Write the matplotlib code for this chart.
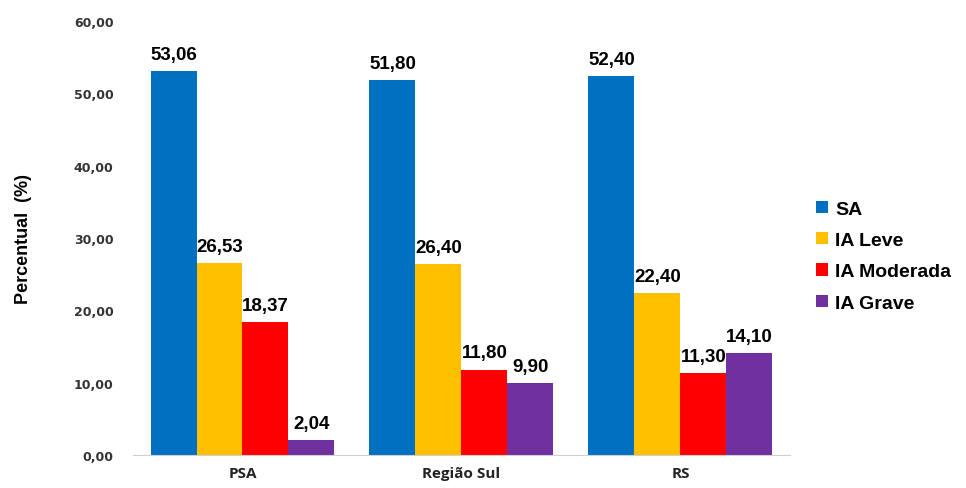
import matplotlib.pyplot as plt
import numpy as np

categories = ["PSA", "Região Sul", "RS"]
series_names = ["SA", "IA Leve", "IA Moderada", "IA Grave"]
sa = [53.06, 51.80, 52.40]
ia_leve = [26.53, 26.40, 22.40]
ia_moderada = [18.37, 11.80, 11.30]
ia_grave = [2.04, 9.90, 14.10]
y_ticks = [0, 10, 20, 30, 40, 50, 60]

colors = ["#0070C0", "#FFC000", "#FF0000", "#7030A0"]
series = [sa, ia_leve, ia_moderada, ia_grave]


def fmt(v):
    return f"{v:.2f}".replace(".", ",")


fig = plt.figure(figsize=(9.66, 4.89), dpi=100)
ax = fig.add_axes([0.1377, 0.0675, 0.680, 0.8875])

x = np.arange(len(categories))
width = 0.21
for i, (vals, col, name) in enumerate(zip(series, colors, series_names)):
    pos = x + (i - 1.5) * width
    bars = ax.bar(pos, vals, width, color=col, label=name)
    for b, v in zip(bars, vals):
        ax.annotate(fmt(v), (b.get_x() + b.get_width() / 2, v),
                    xytext=(0, 6), textcoords="offset points",
                    ha="center", va="bottom", fontsize=13.5,
                    fontweight="bold", family="Liberation Sans")

ax.set_xlim(-0.5, 2.5)
ax.set_ylim(0, 60)
ax.set_yticks(y_ticks)
ax.set_yticklabels([fmt(t) for t in y_ticks], fontsize=9, fontweight="bold",
                   family="Liberation Sans Narrow", color="#333333")
ax.set_xticks(x)
ax.set_xticklabels(categories, fontsize=11, fontweight="bold",
                   family="Open Sans", color="#222222")
ax.tick_params(axis="y", length=0, pad=14)
ax.tick_params(axis="x", length=0, pad=8)
for s in ["top", "right", "left"]:
    ax.spines[s].set_visible(False)
ax.spines["bottom"].set_color("#d0d0d0")
ax.set_ylabel("Percentual  (%)", fontsize=13, fontweight="bold",
              family="Liberation Sans", labelpad=30)

leg = ax.legend(loc="center left", bbox_to_anchor=(1.013, 0.458), frameon=False,
                handlelength=0.6, handleheight=0.6, handletextpad=0.4,
                labelspacing=0.74,
                prop={"family": "Liberation Sans", "weight": "bold", "size": 14})

fig.savefig("out.png", dpi=100)
